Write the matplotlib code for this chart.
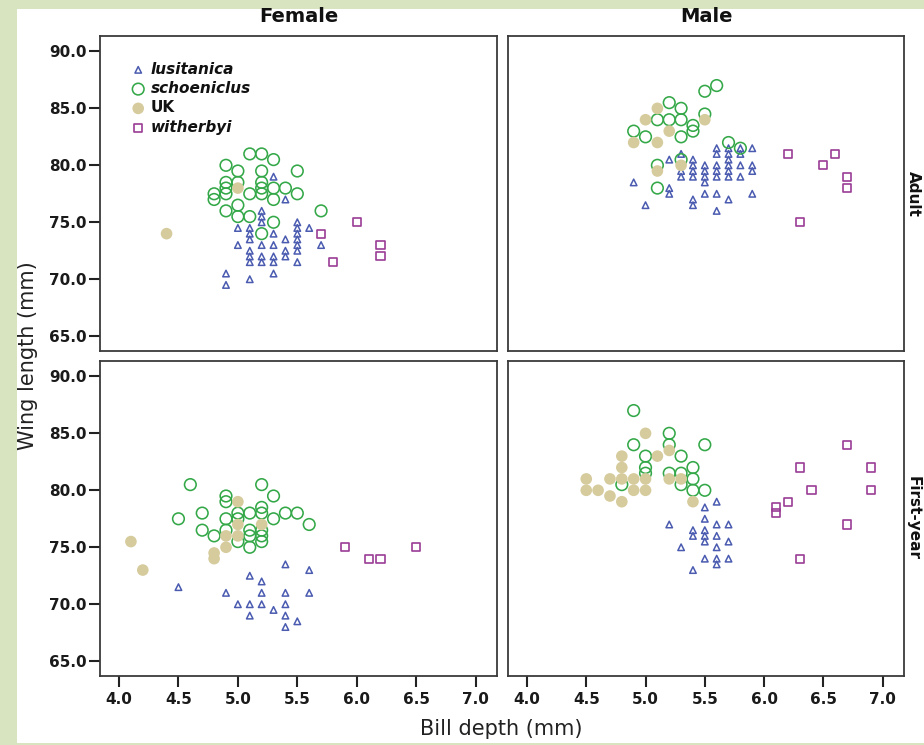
import numpy as np
import matplotlib.pyplot as plt
from matplotlib.patches import Rectangle

# bill depth / wing length pairs
# Female, Adult
fa_lus = [(5.3, 79), (5.4, 77), (5.2, 76), (5.2, 75.5), (5.2, 75), (5.0, 74.5), (5.1, 74.5),
          (5.1, 74), (5.1, 73.5), (5.3, 74), (5.5, 75), (5.5, 74.5), (5.5, 74), (5.5, 73.5),
          (5.5, 73), (5.5, 72.5), (5.5, 71.5), (5.6, 74.5), (5.7, 73), (5.0, 73), (5.2, 73),
          (5.3, 73), (5.4, 73.5), (5.4, 72.5), (5.4, 72), (5.1, 72.5), (5.1, 72), (5.1, 71.5),
          (5.2, 72), (5.2, 71.5), (5.3, 72), (5.3, 71.5), (5.3, 70.5), (4.9, 70.5), (4.9, 69.5),
          (5.1, 70)]
fa_sch = [(5.1, 81), (5.2, 81), (5.3, 80.5), (4.9, 80), (5.0, 79.5), (5.2, 79.5), (5.5, 79.5),
          (4.9, 78.5), (5.0, 78.5), (5.2, 78.5), (4.9, 78), (5.2, 78), (5.3, 78), (5.4, 78),
          (4.8, 77.5), (4.9, 77.5), (5.1, 77.5), (5.2, 77.5), (5.5, 77.5), (4.8, 77), (5.3, 77),
          (5.0, 76.5), (4.9, 76), (5.7, 76), (5.0, 75.5), (5.1, 75.5), (5.3, 75), (5.2, 74)]
fa_uk = [(4.4, 74), (5.0, 78)]
fa_wit = [(5.7, 74), (6.0, 75), (6.2, 73), (6.2, 72), (5.8, 71.5)]

# Male, Adult
ma_lus = [(5.6, 81.5), (5.7, 81.5), (5.8, 81.5), (5.9, 81.5), (5.3, 81), (5.6, 81), (5.7, 81),
          (5.8, 81), (5.2, 80.5), (5.4, 80.5), (5.7, 80.5), (5.4, 80), (5.5, 80), (5.6, 80),
          (5.7, 80), (5.8, 80), (5.9, 80), (5.3, 79.5), (5.4, 79.5), (5.5, 79.5), (5.6, 79.5),
          (5.7, 79.5), (5.9, 79.5), (5.3, 79), (5.4, 79), (5.5, 79), (5.6, 79), (5.7, 79),
          (5.8, 79), (5.5, 78.5), (4.9, 78.5), (5.2, 78), (5.2, 77.5), (5.5, 77.5), (5.6, 77.5),
          (5.9, 77.5), (5.4, 77), (5.7, 77), (5.4, 76.5), (5.0, 76.5), (5.6, 76)]
ma_sch = [(5.6, 87), (5.5, 86.5), (5.2, 85.5), (5.3, 85), (5.5, 84.5), (5.1, 84), (5.2, 84),
          (5.3, 84), (5.4, 83.5), (5.4, 83), (4.9, 83), (5.0, 82.5), (5.3, 82.5), (5.7, 82),
          (5.8, 81.5), (5.3, 80.5), (5.1, 80), (5.1, 78)]
ma_uk = [(5.1, 85), (5.0, 84), (5.5, 84), (5.2, 83), (4.9, 82), (5.1, 82), (5.3, 80), (5.1, 79.5)]
ma_wit = [(6.2, 81), (6.6, 81), (6.5, 80), (6.7, 79), (6.7, 78), (6.3, 75)]

# Female, First-year
ff_lus = [(5.4, 73.5), (5.6, 73), (5.1, 72.5), (5.2, 72), (4.5, 71.5), (4.9, 71), (5.2, 71),
          (5.4, 71), (5.6, 71), (5.0, 70), (5.1, 70), (5.2, 70), (5.4, 70), (5.3, 69.5),
          (5.1, 69), (5.4, 69), (5.5, 68.5), (5.4, 68)]
ff_sch = [(4.6, 80.5), (5.2, 80.5), (5.3, 79.5), (4.9, 79.5), (4.9, 79), (5.2, 78.5), (4.7, 78),
          (5.0, 78), (5.1, 78), (5.2, 78), (5.4, 78), (5.5, 78), (4.5, 77.5), (4.9, 77.5),
          (5.0, 77.5), (5.3, 77.5), (5.6, 77), (4.7, 76.5), (4.9, 76.5), (5.1, 76.5), (5.2, 76.5),
          (4.8, 76), (5.1, 76), (5.2, 76), (5.0, 75.5), (5.2, 75.5), (5.1, 75)]
ff_uk = [(4.1, 75.5), (4.2, 73), (5.0, 79), (5.0, 77), (5.2, 77), (4.9, 76), (5.0, 76), (4.9, 75),
         (4.8, 74.5), (4.8, 74)]
ff_wit = [(5.9, 75), (6.1, 74), (6.2, 74), (6.5, 75)]

# Male, First-year
mf_lus = [(5.6, 79), (5.5, 78.5), (5.5, 77.5), (5.2, 77), (5.6, 77), (5.7, 77), (5.4, 76.5),
          (5.5, 76.5), (5.4, 76), (5.5, 76), (5.6, 76), (5.5, 75.5), (5.7, 75.5), (5.3, 75),
          (5.6, 75), (5.5, 74), (5.6, 74), (5.7, 74), (5.6, 73.5), (5.4, 73)]
mf_sch = [(4.9, 87), (5.2, 85), (4.9, 84), (5.2, 84), (5.5, 84), (5.0, 83), (5.3, 83), (5.0, 82),
          (5.4, 82), (5.0, 81.5), (5.2, 81.5), (5.3, 81.5), (5.4, 81), (4.8, 80.5), (5.3, 80.5),
          (5.4, 80), (5.5, 80)]
mf_uk = [(5.0, 85), (4.8, 83), (5.1, 83), (5.2, 83.5), (4.8, 82), (4.5, 81), (4.7, 81), (4.8, 81),
         (4.9, 81), (5.0, 81), (5.2, 81), (5.3, 81), (4.5, 80), (4.6, 80), (4.9, 80), (5.0, 80),
         (4.7, 79.5), (4.8, 79), (5.4, 79)]
mf_wit = [(6.7, 84), (6.3, 82), (6.9, 82), (6.4, 80), (6.9, 80), (6.2, 79), (6.1, 78.5),
          (6.1, 78), (6.7, 77), (6.3, 74)]

species = ["lusitanica", "schoeniclus", "UK", "witherbyi"]
sexes = ["Female", "Male"]
ages = ["Adult", "First-year"]
xticks = [4.0, 4.5, 5.0, 5.5, 6.0, 6.5, 7.0]
yticks = [65.0, 70.0, 75.0, 80.0, 85.0, 90.0]

panels = {
    ("Adult", "Female"): [fa_lus, fa_sch, fa_uk, fa_wit],
    ("Adult", "Male"): [ma_lus, ma_sch, ma_uk, ma_wit],
    ("First-year", "Female"): [ff_lus, ff_sch, ff_uk, ff_wit],
    ("First-year", "Male"): [mf_lus, mf_sch, mf_uk, mf_wit],
}

# marker styles per species
styles = [
    dict(marker="^", s=22, facecolors="none", edgecolors="#4a5bb0", linewidths=1.1),
    dict(marker="o", s=70, facecolors="none", edgecolors="#34a848", linewidths=1.15),
    dict(marker="o", s=70, facecolors="#d6cb9c", edgecolors="none"),
    dict(marker="s", s=34, facecolors="none", edgecolors="#9a3c96", linewidths=1.2),
]

W, H = 924, 745
fig = plt.figure(figsize=(W / 100, H / 100), dpi=100, facecolor="#d8e3bf")
fig.add_artist(Rectangle((17 / W, 2 / H), 1 - 17 / W, 734 / H,
                         transform=fig.transFigure, facecolor="white",
                         edgecolor="none", zorder=-1))

col_left = [100 / W, 508 / W]
col_w = [397 / W, 396 / W]
row_bottom = [1 - 351 / H, 1 - 676 / H]
row_h = 315 / H

for r, age in enumerate(ages):
    for c, sex in enumerate(sexes):
        ax = fig.add_axes([col_left[c], row_bottom[r], col_w[c], row_h])
        for sp, pts, st in zip(species, panels[(age, sex)], styles):
            pts = np.array(pts)
            ax.scatter(pts[:, 0], pts[:, 1], label=sp, **st)
        ax.set_xlim(3.84, 7.18)
        ax.set_ylim(63.7, 91.35)
        for s in ax.spines.values():
            s.set_color("#3a3a3a")
            s.set_linewidth(1.3)
        ax.set_xticks(xticks)
        ax.set_yticks(yticks)
        ax.tick_params(length=8, width=1.5, color="#222222", pad=1.5,
                       labelsize=11, labelcolor="#1a1a1a")
        ax.tick_params(axis="x", pad=3.5)
        ax.set_xticklabels(["%.1f" % v for v in xticks], fontweight="bold")
        ax.set_yticklabels(["%.1f" % v for v in yticks], fontweight="bold")
        if r == 0:
            ax.tick_params(axis="x", bottom=False, labelbottom=False)
        if c == 1:
            ax.tick_params(axis="y", left=False, labelleft=False)

        if r == 0 and c == 0:
            leg = ax.legend(loc="upper left", bbox_to_anchor=(0.077, 0.918),
                            frameon=False, borderpad=0, borderaxespad=0,
                            handlelength=1.0, handletextpad=0.3,
                            labelspacing=0.28, scatterpoints=1,
                            prop=dict(size=11, weight="bold"))
            for t in leg.get_texts():
                if t.get_text() != "UK":
                    t.set_style("italic")
                t.set_color("#111111")

        if r == 0:
            fig.text(col_left[c] + col_w[c] / 2, 1 - 17 / H, sex,
                     ha="center", va="center", fontsize=14, fontweight="bold",
                     color="#111111")
        if c == 1:
            fig.text(906 / W, row_bottom[r] + row_h / 2, age, rotation=270,
                     ha="left", va="center", fontsize=11, fontweight="bold",
                     color="#111111")

fig.text(28 / W, 1 - 356 / H, "Wing length (mm)", rotation=90,
         ha="center", va="center", fontsize=15, color="#222222")
fig.text(501 / W, 1 - 729 / H, "Bill depth (mm)",
         ha="center", va="center", fontsize=15, color="#222222")

fig.savefig("out.png", dpi=100, facecolor=fig.get_facecolor())
